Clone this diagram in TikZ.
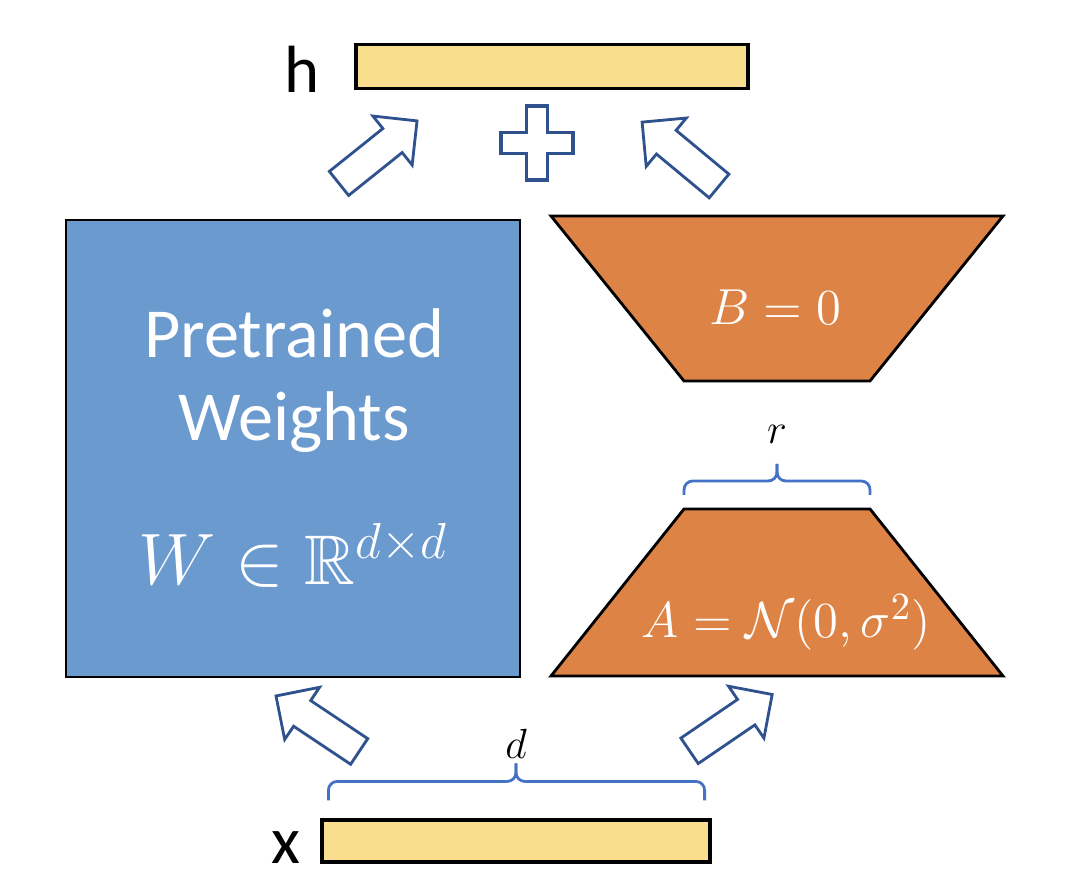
\documentclass[tikz,border=0pt]{standalone}
\usepackage{amsmath}
\usepackage{amssymb}
\usepackage[no-math]{fontspec}
\setmainfont{Carlito}
\usepackage{xcolor}
\usepackage{tikz}
\usetikzlibrary{positioning, calc, shapes.arrows}

\definecolor{vecyellow}{RGB}{249,222,141}
\definecolor{wblue}{RGB}{107,154,207}
\definecolor{loraorange}{RGB}{222,131,70}
\definecolor{arrowblue}{RGB}{47,82,143}
\definecolor{bracblue}{RGB}{68,114,196}

\begin{document}
\begin{tikzpicture}[
    >=latex,
    vec/.style={draw=black, line width=0.9pt, fill=vecyellow, minimum height=0.44cm, inner sep=0pt},
    lbl/.style={font=\fontsize{19pt}{22pt}\selectfont, inner sep=0pt},
    wblk/.style={draw=black, line width=0.8pt, fill=wblue, minimum width=4.54cm, minimum height=4.57cm, inner sep=0pt},
    lora/.style={draw=black, line width=0.8pt, fill=loraorange, line join=miter},
    wtxt/.style={text=white, font=\fontsize{20pt}{23.6pt}\selectfont, align=center, inner sep=0pt},
    mtxt/.style={text=white, font=\fontsize{15pt}{18pt}\selectfont, inner sep=0pt},
    dimlbl/.style={font=\fontsize{13pt}{15pt}\selectfont, inner sep=0pt},
    fat/.style={single arrow, draw=arrowblue, line width=0.8pt, fill=white, minimum height=1.0cm, minimum width=0.6cm,
                single arrow head extend=0.16cm, single arrow tip angle=90, inner sep=0.14cm},
    brc/.style={draw=bracblue, line width=0.8pt, rounded corners=2.5pt},
    plusline/.style={draw=arrowblue, line width=0.9pt, fill=white},
]
\useasboundingbox (0,0) rectangle (10.8,8.87);

% ─── Input / output vectors ───
\node[vec, minimum width=3.92cm] at (5.52, 8.205) (hbar) {};
\node[vec, minimum width=3.88cm, minimum height=0.42cm] at (5.16, 0.46) (xbar) {};
\node[lbl, anchor=base east] at ([shift={(-0.34,-0.02)}]hbar.south west) (hlbl) {h};
\node[lbl, anchor=base east] at ([shift={(-0.19,0.0)}]xbar.south west) (xlbl) {x};

% ─── Frozen weights ───
\node[wblk] at (2.93, 4.385) (W) {};
\node[wtxt, anchor=north] at (2.94, 5.79) (wname) {Pretrained\\Weights};
\node[wtxt, anchor=base] at (2.93, 3.02) (wdim) {$W \in \mathbb{R}^{d \times d}$};

% ─── Low-rank branch (B wide on top, A wide at bottom) ───
\draw[lora] (5.51, 6.71) coordinate (Btl) -- (10.03, 6.71) coordinate (Btr)
    -- (8.70, 5.06) coordinate (Bbr) -- (6.84, 5.06) coordinate (Bbl) -- cycle;
\draw[lora] (6.84, 3.78) coordinate (Atl) -- (8.70, 3.78) coordinate (Atr)
    -- (10.03, 2.11) coordinate (Abr) -- (5.51, 2.11) coordinate (Abl) -- cycle;
\node[mtxt, anchor=base] at (7.755, 5.62) (btxt) {$B = 0$};
\node[mtxt, anchor=base] at (7.865, 2.49) (atxt) {$A = \mathcal{N}(0, \sigma^2)$};

% r brace over A
\coordinate (rL) at ([yshift=0.14cm]Atl);
\coordinate (rR) at ([yshift=0.14cm]Atr);
\coordinate (rTip) at ($(Atl)!0.5!(Atr) + (0, 0.45)$);
\draw[brc] (rL) |- ([yshift=-0.17cm]rTip) -- (rTip);
\draw[brc] (rR) |- ([yshift=-0.17cm]rTip) -- (rTip);
\node[dimlbl, anchor=base] at ([yshift=0.20cm]rTip) (rlbl) {$r$};

% d brace over x
\coordinate (dL) at ([shift={(0.08,0.18)}]xbar.north west);
\coordinate (dR) at ([shift={(-0.07,0.18)}]xbar.north east);
\coordinate (dTip) at ([yshift=0.55cm]xbar.north);
\draw[brc] (dL) |- ([yshift=-0.18cm]dTip) -- (dTip);
\draw[brc] (dR) |- ([yshift=-0.18cm]dTip) -- (dTip);
\node[dimlbl, anchor=base] at ([yshift=0.05cm]dTip) (dlbl) {$d$};

% ─── Flows ───
\node[fat, rotate=146.3] at (3.24, 1.59) (arrxW) {};
\node[fat, rotate=34.3]  at (7.245, 1.60) (arrxA) {};
\node[fat, rotate=38.7]  at (3.72, 7.30) (arrWh) {};
\node[fat, rotate=140.3] at (6.865, 7.28) (arrBh) {};

% sum
\coordinate (plus) at (5.37, 7.44);
\draw[plusline, shift={(plus)}] (-0.105,0.37) -- (0.105,0.37) -- (0.105,0.105) -- (0.36,0.105) -- (0.36,-0.105)
    -- (0.105,-0.105) -- (0.105,-0.37) -- (-0.105,-0.37) -- (-0.105,-0.105) -- (-0.36,-0.105)
    -- (-0.36,0.105) -- (-0.105,0.105) -- cycle;

\end{tikzpicture}
\end{document}
